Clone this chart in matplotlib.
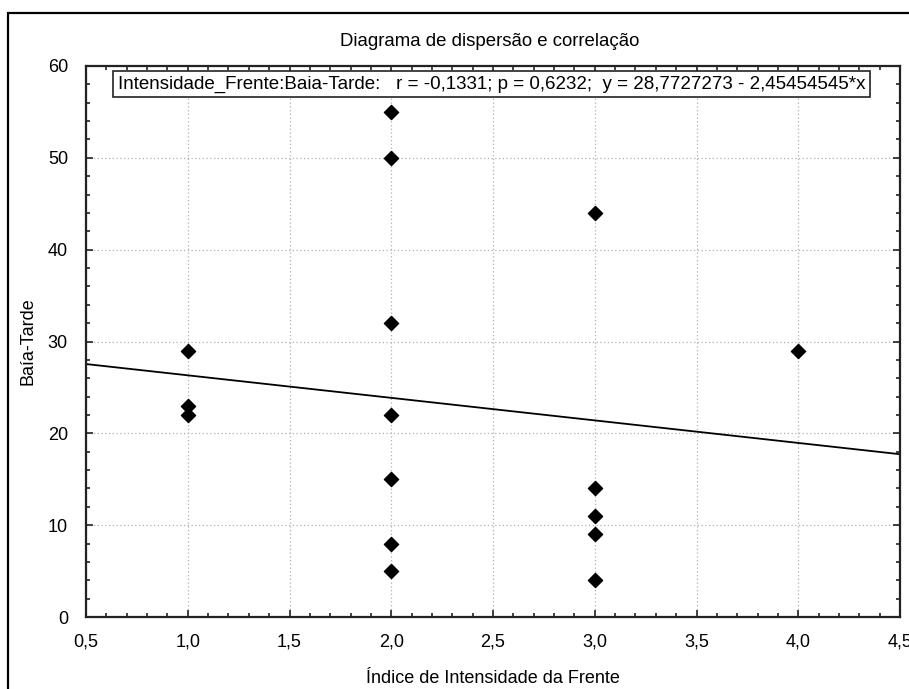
import numpy as np
import matplotlib
matplotlib.use('Agg')
import matplotlib.pyplot as plt
from matplotlib.patches import Rectangle
from matplotlib.ticker import MultipleLocator, FuncFormatter

# Índice de intensidade da frente e valores Baía-Tarde
intensidade = [1, 1, 1, 2, 2, 2, 2, 2, 2, 2, 3, 3, 3, 3, 3, 4]
baia_tarde = [29, 23, 22, 55, 50, 32, 22, 15, 8, 5, 44, 14, 11, 9, 4, 29]

# Coeficientes da regressão conforme a legenda
intercepto = 28.7727273
inclinacao = -2.45454545
r_valor = -0.1331
p_valor = 0.6232

plt.rcParams['font.family'] = ['Liberation Sans', 'DejaVu Sans']
fs = 13

fig = plt.figure(figsize=(9.09, 6.89), dpi=100)
ax = fig.add_axes([86 / 909, 72 / 689, 814 / 909, 551 / 689])

# Moldura externa
fig.add_artist(Rectangle((8 / 909, -0.05), 1.1, (689 - 13) / 689 + 0.05,
                         transform=fig.transFigure, fill=False,
                         edgecolor='black', linewidth=1.6, clip_on=False))

ax.set_xlim(0.5, 4.5)
ax.set_ylim(0, 60)

ax.scatter(intensidade, baia_tarde, marker='D', s=52, color='black',
           zorder=3, clip_on=False)

xs = np.array([0.5, 4.5])
ax.plot(xs, intercepto + inclinacao * xs, color='black', linewidth=1.3, zorder=2)

ax.xaxis.set_major_locator(MultipleLocator(0.5))
ax.xaxis.set_minor_locator(MultipleLocator(0.1))
ax.yaxis.set_major_locator(MultipleLocator(10))
ax.yaxis.set_minor_locator(MultipleLocator(2))

virgula = FuncFormatter(lambda v, pos: f'{v:.1f}'.replace('.', ','))
ax.xaxis.set_major_formatter(virgula)
ax.yaxis.set_major_formatter(FuncFormatter(lambda v, pos: f'{v:.0f}'))

ax.tick_params(which='both', direction='in', top=True, right=True,
               colors='#222222', labelcolor='black', labelsize=fs)
ax.tick_params(which='major', length=5, width=1.2)
ax.tick_params(which='minor', length=3, width=1.2)
ax.tick_params(axis='x', which='major', pad=12)
ax.tick_params(axis='y', which='major', pad=13)

ax.grid(True, which='major', linestyle=(0, (1, 2)), color='#b0b0b0', linewidth=0.9)
for s in ax.spines.values():
    s.set_linewidth(1.6)
    s.set_color('#222222')

ax.set_xlabel('Índice de Intensidade da Frente', fontsize=fs, labelpad=14)
ax.set_ylabel('Baía-Tarde', fontsize=fs, labelpad=8)
fig.text(490 / 909, 1 - 41 / 689, 'Diagrama de dispersão e correlação',
         ha='center', va='center', fontsize=13.4)

legenda = (f'Intensidade_Frente:Baia-Tarde:   r = {r_valor:.4f}; p = {p_valor:.4f};  '
           f'y = {intercepto:.7f} - {abs(inclinacao):.8f}*x').replace('.', ',')
ax.text(32 / 814, 1 - 18 / 551, legenda, transform=ax.transAxes, fontsize=13.5,
        ha='left', va='center', zorder=5,
        bbox=dict(boxstyle='square,pad=0.25', facecolor='white',
                  edgecolor='#222222', linewidth=1.2))

fig.savefig('out.png', dpi=100)
